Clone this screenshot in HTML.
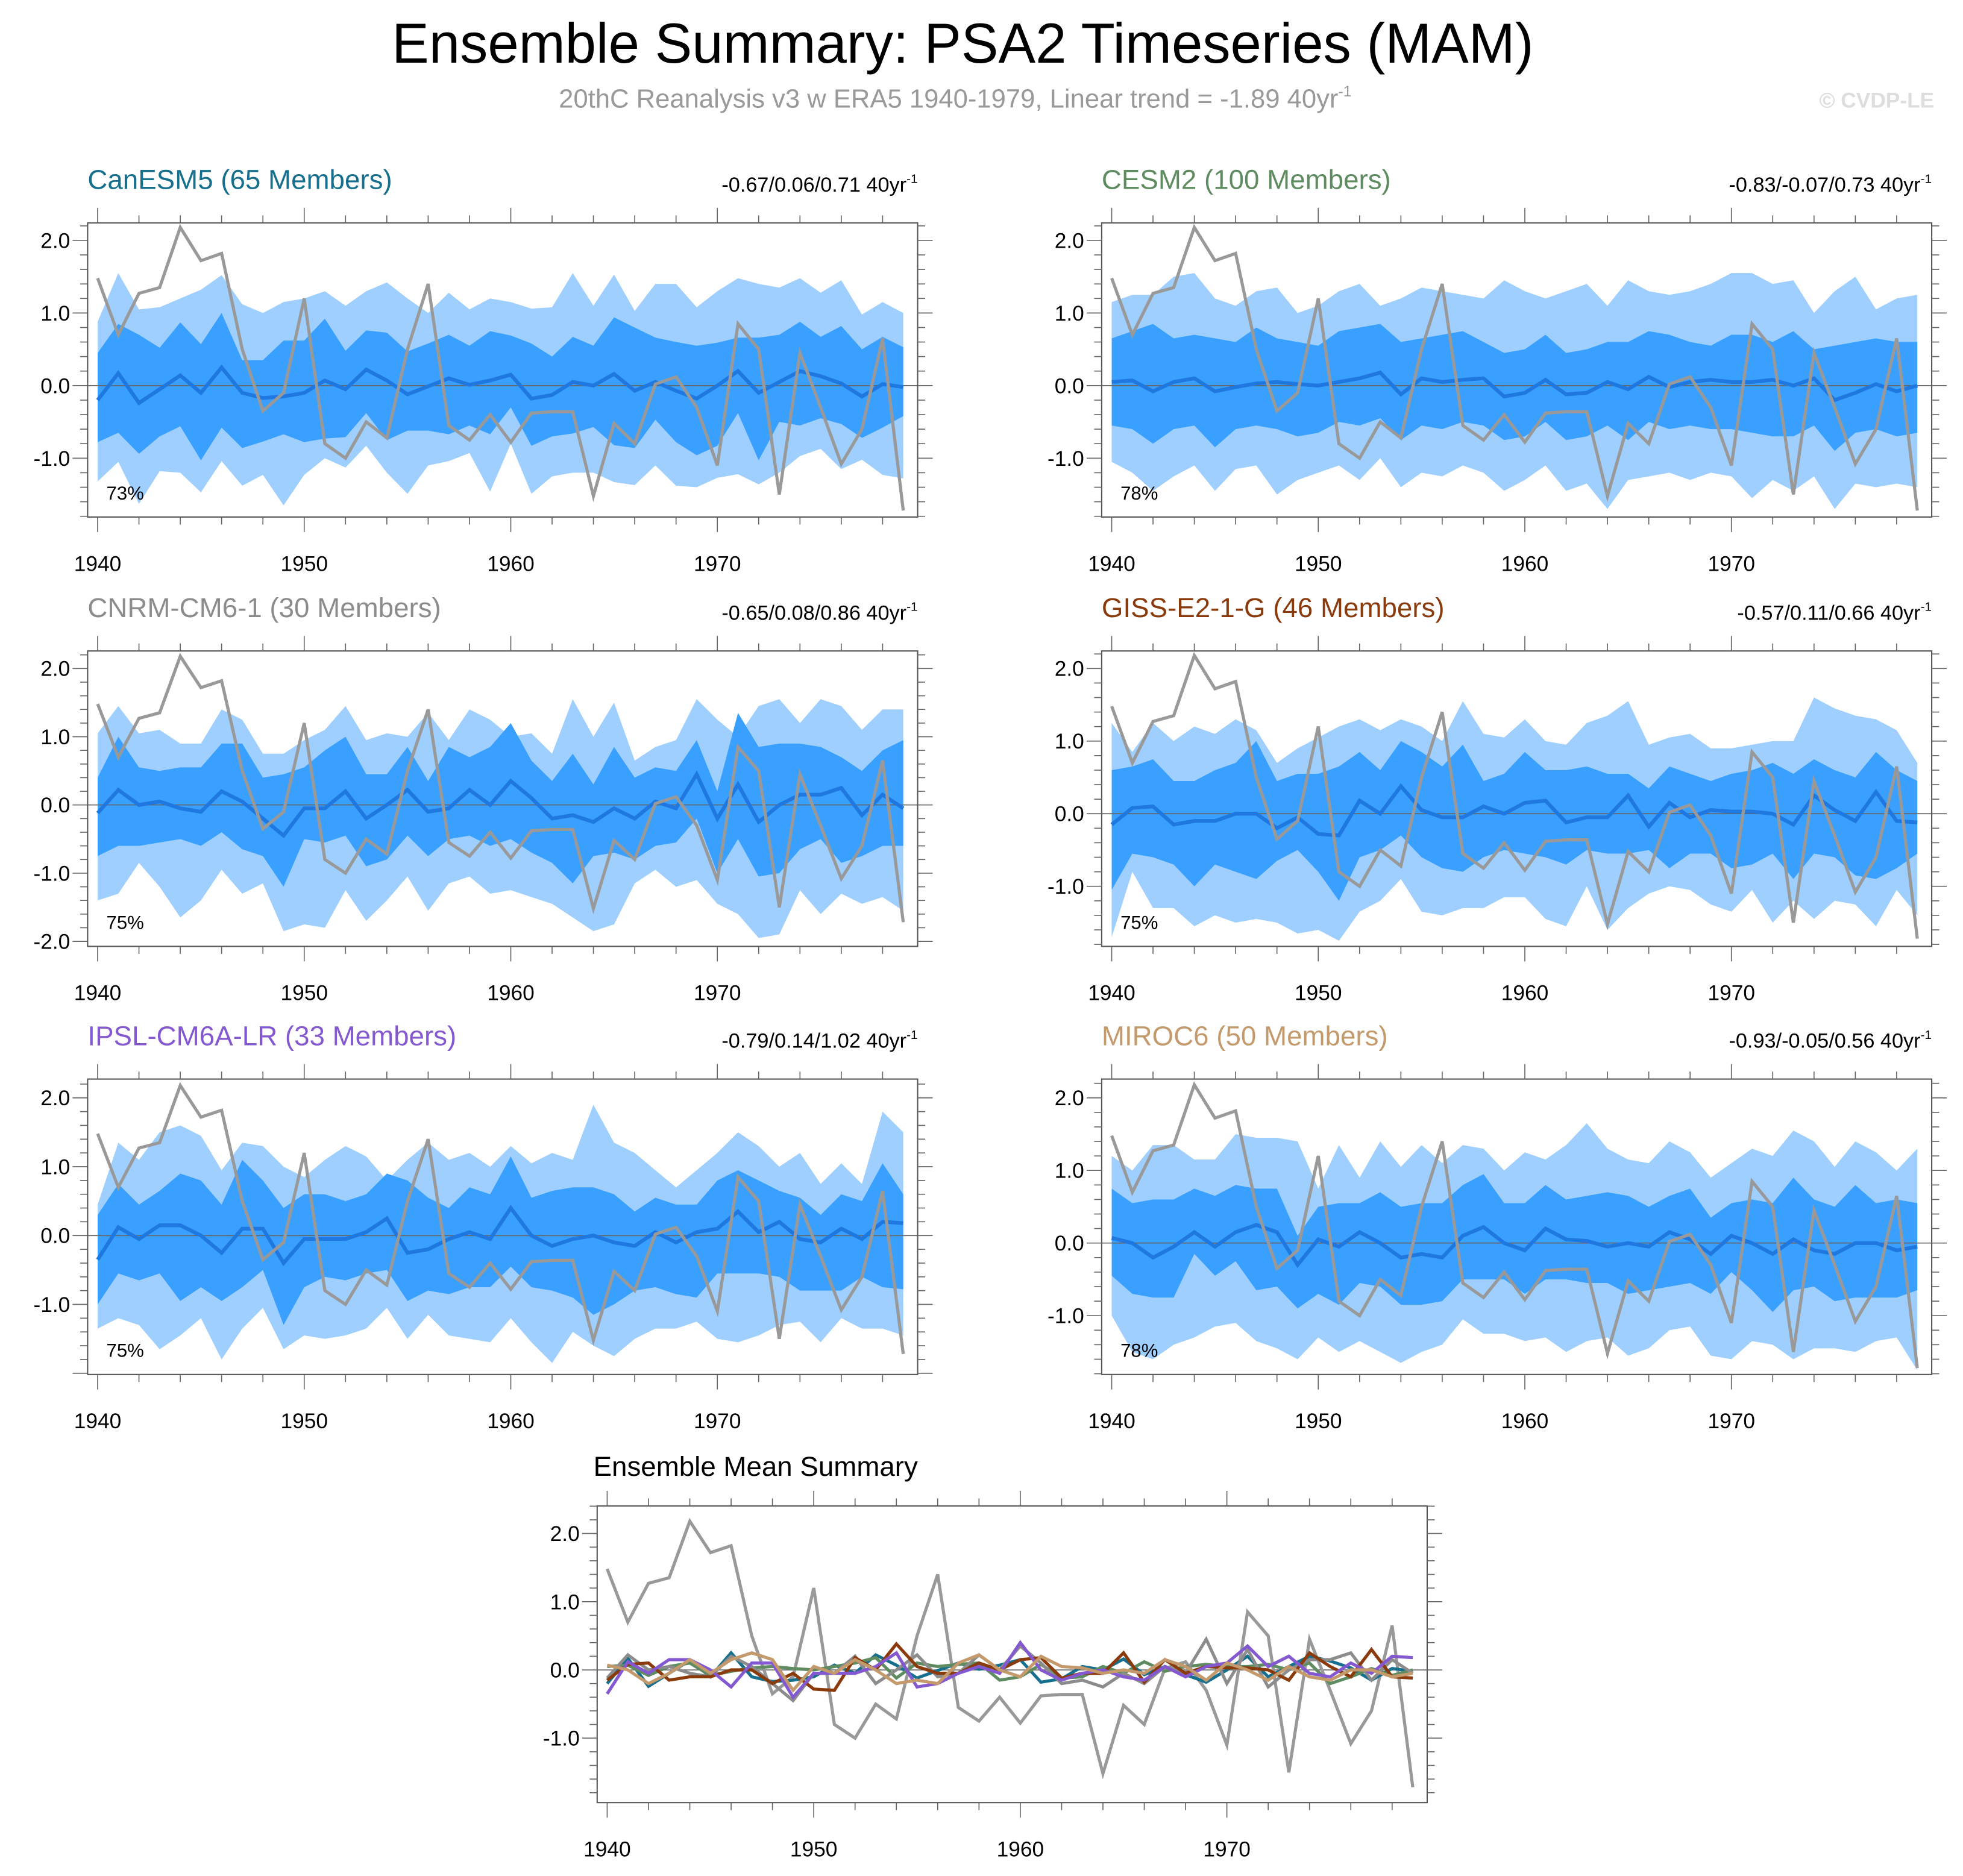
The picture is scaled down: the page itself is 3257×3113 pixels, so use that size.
<!DOCTYPE html>
<html><head><meta charset="utf-8"><style>html,body{margin:0;padding:0;background:#fff}svg{display:block}text{font-family:"Liberation Sans",sans-serif}</style></head>
<body>
<svg id="chart" xmlns="http://www.w3.org/2000/svg" width="3257" height="3113" viewBox="0 0 1568 1498.6">
<text x="769" y="50" font-size="45" text-anchor="middle" textLength="912" lengthAdjust="spacingAndGlyphs">Ensemble Summary: PSA2 Timeseries (MAM)</text>
<text x="763" y="86" font-size="21" fill="#999" text-anchor="middle">20thC Reanalysis v3 w ERA5 1940-1979, Linear trend = -1.89 40yr<tspan dy="-9" font-size="12">-1</tspan></text>
<text x="1545" y="86" font-size="17" fill="#ddd" font-weight="bold" text-anchor="end">© CVDP-LE</text>
<g id="panels"></g>
</svg>
<script>
const years = Array.from({length:40},(_,i)=>1940+i);
const obs = [1.48,0.7,1.27,1.35,2.18,1.72,1.82,0.5,-0.35,-0.1,1.2,-0.8,-1.0,-0.5,-0.72,0.5,1.4,-0.55,-0.75,-0.4,-0.78,-0.38,-0.36,-0.36,-1.52,-0.52,-0.8,0.02,0.12,-0.3,-1.1,0.85,0.5,-1.5,0.45,-0.3,-1.08,-0.6,0.65,-1.72];
const modelNames = ["CanESM5 (65 Members)","CESM2 (100 Members)","CNRM-CM6-1 (30 Members)","GISS-E2-1-G (46 Members)","IPSL-CM6A-LR (33 Members)","MIROC6 (50 Members)"];
const trendLabels = ["-0.67/0.06/0.71 40yr","-0.83/-0.07/0.73 40yr","-0.65/0.08/0.86 40yr","-0.57/0.11/0.66 40yr","-0.79/0.14/1.02 40yr","-0.93/-0.05/0.56 40yr"];
const pctLabels = ["73%","78%","75%","75%","75%","78%"];
const yTickLabels = [[2,1,0,-1],[2,1,0,-1],[2,1,0,-1,-2],[2,1,0,-1],[2,1,0,-1],[2,1,0,-1]];
const xTickLabels = [1940,1950,1960,1970];
const mean0=[-0.2,0.17,-0.24,-0.05,0.14,-0.1,0.25,-0.1,-0.17,-0.15,-0.1,0.07,-0.05,0.22,0.07,-0.12,-0.01,0.1,0.01,0.07,0.15,-0.18,-0.13,0.05,0.0,0.16,-0.07,0.05,-0.07,-0.18,0.0,0.2,-0.1,0.05,0.2,0.13,0.03,-0.15,0.02,-0.02];
const hi90_0=[0.88,1.55,1.05,1.08,1.2,1.32,1.52,1.12,1.0,1.15,1.2,1.3,1.1,1.3,1.42,1.2,1.0,1.28,1.05,1.2,1.15,1.06,1.08,1.55,1.1,1.53,1.03,1.4,1.4,1.08,1.3,1.48,1.4,1.35,1.48,1.28,1.45,0.98,1.15,1.0];
const hi75_0=[0.45,0.85,0.7,0.52,0.87,0.57,1.0,0.35,0.35,0.62,0.62,0.92,0.48,0.76,0.73,0.47,0.58,0.7,0.55,0.75,0.69,0.58,0.4,0.67,0.55,0.94,0.8,0.66,0.6,0.55,0.59,0.66,0.66,0.7,0.88,0.67,0.82,0.5,0.67,0.53];
const lo75_0=[-0.78,-0.65,-0.94,-0.7,-0.56,-1.03,-0.58,-0.86,-0.77,-0.67,-0.78,-0.73,-0.71,-0.38,-0.75,-0.62,-0.62,-0.67,-0.55,-0.67,-0.3,-0.83,-0.7,-0.66,-0.57,-0.82,-0.86,-0.47,-0.78,-0.96,-0.83,-0.38,-1.03,-0.5,-0.55,-0.45,-0.53,-0.72,-0.58,-0.42];
const lo90_0=[-1.32,-1.05,-1.63,-1.18,-1.2,-1.47,-1.04,-1.38,-1.23,-1.65,-1.23,-1.0,-1.13,-0.83,-1.2,-1.49,-1.1,-1.04,-0.93,-1.46,-0.8,-1.49,-1.25,-1.2,-1.2,-1.33,-1.37,-1.1,-1.38,-1.4,-1.27,-1.22,-1.36,-1.2,-0.97,-0.87,-1.15,-1.02,-1.23,-1.28];
const mean1=[0.05,0.07,-0.08,0.05,0.1,-0.08,-0.02,0.03,0.05,0.02,0.0,0.05,0.1,0.18,-0.12,0.1,0.05,0.08,0.1,-0.15,-0.1,0.08,-0.12,-0.1,0.05,-0.05,0.12,-0.02,0.05,0.08,0.05,0.05,0.08,0.0,0.1,-0.2,-0.1,0.02,-0.08,0.0];
const hi90_1=[1.15,1.25,1.25,1.5,1.55,1.2,1.1,1.3,1.35,1.0,1.1,1.3,1.4,1.1,1.2,1.35,1.3,1.25,1.2,1.45,1.3,1.2,1.3,1.4,1.1,1.45,1.3,1.25,1.3,1.4,1.55,1.55,1.4,1.45,1.0,1.3,1.5,1.05,1.2,1.25];
const hi75_1=[0.65,0.75,0.85,0.65,0.7,0.65,0.6,0.8,0.65,0.6,0.55,0.75,0.8,0.85,0.6,0.65,0.7,0.75,0.6,0.45,0.5,0.7,0.45,0.5,0.6,0.6,0.75,0.7,0.6,0.55,0.7,0.7,0.6,0.75,0.5,0.55,0.6,0.65,0.6,0.6];
const lo75_1=[-0.55,-0.6,-0.8,-0.6,-0.55,-0.85,-0.6,-0.55,-0.6,-0.7,-0.65,-0.5,-0.55,-0.45,-0.75,-0.55,-0.6,-0.5,-0.55,-0.75,-0.7,-0.5,-0.75,-0.7,-0.55,-0.75,-0.5,-0.6,-0.55,-0.6,-0.6,-0.65,-0.7,-0.7,-0.55,-0.9,-0.65,-0.6,-0.7,-0.65];
const lo90_1=[-1.05,-1.2,-1.45,-1.25,-1.1,-1.45,-1.15,-1.1,-1.5,-1.3,-1.2,-1.1,-1.3,-1.0,-1.4,-1.2,-1.25,-1.1,-1.2,-1.45,-1.3,-1.1,-1.45,-1.35,-1.7,-1.3,-1.25,-1.2,-1.3,-1.2,-1.25,-1.55,-1.3,-1.45,-1.25,-1.7,-1.35,-1.4,-1.35,-1.4];
const mean2=[-0.12,0.22,0.0,0.05,-0.05,-0.1,0.2,0.05,-0.2,-0.45,-0.05,-0.05,0.2,-0.2,0.0,0.22,-0.1,-0.05,0.22,0.0,0.35,0.1,-0.2,-0.15,-0.25,-0.05,-0.2,0.05,-0.05,0.45,-0.2,0.3,-0.25,0.0,0.15,0.15,0.25,-0.15,0.15,-0.05];
const hi90_2=[1.05,1.45,1.05,1.1,0.9,0.9,1.4,1.25,0.75,0.75,0.95,1.1,1.45,0.95,1.05,1.0,1.35,0.95,1.4,1.25,1.0,1.05,0.75,1.55,1.0,1.5,0.65,0.85,0.95,1.55,1.25,1.0,1.45,1.55,1.2,1.55,1.45,1.1,1.4,1.4];
const hi75_2=[0.4,1.0,0.55,0.5,0.55,0.55,0.9,0.9,0.4,0.45,0.55,0.8,1.0,0.45,0.45,0.85,0.35,0.85,0.7,0.85,1.2,0.65,0.35,0.75,0.3,0.85,0.4,0.55,0.5,0.95,0.2,1.35,0.85,0.9,0.9,0.85,0.7,0.5,0.8,0.95];
const lo75_2=[-0.75,-0.6,-0.6,-0.55,-0.5,-0.6,-0.4,-0.65,-0.75,-1.2,-0.5,-0.55,-0.45,-0.9,-0.8,-0.45,-0.75,-0.5,-0.45,-0.6,-0.5,-0.7,-0.85,-1.15,-0.75,-0.7,-0.8,-0.6,-0.55,-0.2,-1.0,-0.5,-1.05,-1.0,-0.65,-0.5,-0.85,-0.75,-0.6,-0.6];
const lo90_2=[-1.4,-1.3,-0.85,-1.2,-1.65,-1.4,-0.95,-1.3,-1.15,-1.85,-1.75,-1.8,-1.25,-1.7,-1.4,-1.05,-1.55,-1.15,-1.05,-1.3,-1.25,-1.35,-1.45,-1.65,-1.85,-1.75,-1.15,-0.95,-1.2,-1.1,-1.45,-1.6,-1.95,-1.9,-1.25,-1.6,-1.3,-1.45,-1.35,-1.55];
const mean3=[-0.15,0.08,0.1,-0.15,-0.1,-0.1,0.0,0.0,-0.2,-0.05,-0.28,-0.3,0.18,0.0,0.38,0.05,-0.05,-0.05,0.1,0.0,0.15,0.18,-0.12,-0.05,-0.05,0.25,-0.18,0.15,-0.05,0.05,0.03,0.03,0.0,-0.15,0.25,0.05,-0.1,0.3,-0.1,-0.12];
const hi90_3=[1.25,0.85,1.25,1.0,1.2,1.1,1.3,1.15,0.7,0.9,1.05,1.2,1.3,1.15,1.3,1.2,1.0,1.55,1.1,1.05,1.3,1.0,0.95,1.25,1.35,1.55,0.95,1.05,1.1,0.9,0.9,0.95,1.0,1.0,1.6,1.45,1.35,1.3,1.15,0.7];
const hi75_3=[0.6,0.65,0.75,0.45,0.45,0.6,0.7,1.0,0.45,0.55,0.55,0.65,0.85,0.6,1.0,0.85,0.65,0.95,0.45,0.55,0.85,0.6,0.6,0.65,0.55,0.55,0.35,0.65,0.55,0.45,0.55,0.6,0.7,0.55,0.75,0.6,0.5,0.85,0.6,0.45];
const lo75_3=[-1.05,-0.55,-0.6,-0.7,-1.0,-0.7,-0.8,-0.9,-0.65,-0.5,-0.8,-1.2,-0.6,-0.5,-0.3,-0.6,-0.75,-0.8,-0.6,-0.5,-0.55,-0.6,-0.7,-0.5,-0.55,-0.55,-0.5,-0.75,-0.55,-0.55,-0.75,-0.7,-0.55,-0.9,-0.55,-0.6,-0.85,-0.9,-0.75,-0.55];
const lo90_3=[-1.7,-0.8,-1.3,-1.3,-1.55,-1.4,-1.5,-1.45,-1.5,-1.65,-1.6,-1.75,-1.35,-1.2,-0.9,-1.35,-1.4,-1.3,-1.3,-1.15,-1.15,-1.45,-1.55,-1.0,-1.6,-1.3,-1.1,-1.0,-1.05,-1.25,-1.35,-1.05,-1.5,-1.2,-1.45,-1.2,-1.25,-1.55,-1.05,-1.4];
const mean4=[-0.35,0.12,-0.05,0.15,0.15,0.0,-0.25,0.1,0.1,-0.4,-0.05,-0.05,-0.05,0.05,0.25,-0.25,-0.2,-0.05,0.05,-0.05,0.4,0.0,-0.15,-0.05,0.0,-0.1,-0.15,0.05,-0.1,0.05,0.1,0.35,0.05,0.2,-0.05,-0.1,0.1,-0.05,0.2,0.18];
const hi90_4=[0.45,1.35,1.1,1.5,1.6,1.45,0.95,1.35,1.3,1.0,0.85,1.1,1.3,1.15,0.8,1.1,1.35,1.1,1.2,1.0,1.3,1.05,1.2,1.1,1.9,1.35,1.2,0.95,0.7,0.95,1.2,1.5,1.3,1.0,1.2,0.75,1.05,0.75,1.8,1.5];
const hi75_4=[0.3,0.75,0.45,0.65,0.9,0.8,0.45,1.1,0.8,0.4,0.6,0.6,0.5,0.6,0.9,0.8,0.55,0.4,0.7,0.6,1.15,0.55,0.65,0.7,0.7,0.6,0.35,0.55,0.45,0.45,0.8,0.95,0.8,0.65,0.55,0.3,0.6,0.5,1.05,0.6];
const lo75_4=[-1.0,-0.55,-0.65,-0.55,-0.95,-0.75,-0.95,-0.75,-0.5,-1.3,-0.75,-0.6,-0.65,-0.55,-0.5,-0.95,-0.8,-0.85,-0.75,-0.75,-0.45,-0.75,-0.8,-0.9,-1.15,-1.0,-0.8,-0.75,-0.85,-0.9,-0.55,-0.55,-0.55,-0.6,-0.8,-0.8,-0.8,-0.6,-0.75,-0.78];
const lo90_4=[-1.35,-1.2,-1.3,-1.65,-1.45,-1.2,-1.8,-1.35,-1.05,-1.65,-1.45,-1.5,-1.45,-1.35,-1.05,-1.5,-1.15,-1.45,-1.5,-1.55,-1.2,-1.55,-1.85,-1.4,-1.6,-1.75,-1.5,-1.35,-1.35,-1.25,-1.5,-1.55,-1.45,-1.3,-1.25,-1.55,-1.2,-1.35,-1.35,-1.45];
const mean5=[0.07,0.0,-0.2,-0.05,0.15,-0.05,0.15,0.25,0.15,-0.3,0.05,-0.05,0.15,0.0,-0.2,-0.15,-0.2,0.1,0.22,0.0,-0.1,0.2,0.05,0.03,-0.05,0.0,-0.05,0.15,0.05,-0.15,0.1,0.0,-0.15,0.05,-0.1,-0.15,0.0,0.0,-0.1,-0.05];
const hi90_5=[1.2,1.0,1.35,1.35,1.15,1.15,1.5,1.45,1.45,1.4,0.75,1.35,0.9,1.4,1.05,1.35,1.1,1.35,1.3,1.0,1.25,1.15,1.35,1.65,1.3,1.15,1.1,1.4,1.25,0.9,1.1,1.3,1.2,1.55,1.4,1.05,1.4,1.25,1.0,1.3];
const hi75_5=[0.75,0.55,0.6,0.6,0.75,0.65,0.8,0.75,0.75,0.1,0.5,0.55,0.55,0.7,0.5,0.55,0.55,0.8,0.95,0.55,0.55,0.8,0.6,0.65,0.7,0.65,0.5,0.65,0.75,0.35,0.55,0.6,0.55,0.9,0.6,0.5,0.8,0.55,0.6,0.55];
const lo75_5=[-0.45,-0.7,-0.75,-0.75,-0.15,-0.45,-0.25,-0.65,-0.6,-0.9,-0.7,-0.85,-0.55,-0.6,-0.85,-0.85,-0.8,-0.5,-0.5,-0.5,-0.7,-0.5,-0.5,-0.55,-0.55,-0.7,-0.65,-0.6,-0.55,-0.7,-0.4,-0.65,-0.95,-0.65,-0.6,-0.8,-0.75,-0.75,-0.75,-0.65];
const lo90_5=[-1.0,-1.5,-1.6,-1.4,-1.3,-1.15,-1.1,-1.35,-1.45,-1.6,-1.3,-1.5,-1.35,-1.5,-1.65,-1.5,-1.4,-1.05,-1.25,-1.25,-1.35,-1.3,-1.5,-1.35,-1.3,-1.55,-1.45,-1.2,-1.15,-1.55,-1.6,-1.35,-1.4,-1.6,-1.45,-1.45,-1.5,-1.35,-1.3,-1.75];
const meanColors = ["#176f8e","#5e8c60","#8c8c8c","#8b3a0c","#8458d0","#c49a6c"];

const NS="http://www.w3.org/2000/svg";
const root=document.getElementById('panels');
function el(t,a,p){const e=document.createElementNS(NS,t);for(const k in a)e.setAttribute(k,a[k]);(p||root).appendChild(e);return e;}
const means=[mean0,mean1,mean2,mean3,mean4,mean5];
const bands=[[hi90_0,hi75_0,lo75_0,lo90_0],[hi90_1,hi75_1,lo75_1,lo90_1],[hi90_2,hi75_2,lo75_2,lo90_2],[hi90_3,hi75_3,lo75_3,lo90_3],[hi90_4,hi75_4,lo75_4,lo90_4],[hi90_5,hi75_5,lo75_5,lo90_5]];
const layout=[
 {x0:70,y0:178,y1:413,zero:308,unit:58},
 {x0:880,y0:178,y1:413,zero:308,unit:58},
 {x0:70,y0:520,y1:756,zero:643,unit:54.5},
 {x0:880,y0:520,y1:756,zero:650,unit:58},
 {x0:70,y0:862,y1:1098,zero:987,unit:55},
 {x0:880,y0:862,y1:1098,zero:993,unit:58},
 {x0:477,y0:1203,y1:1440,zero:1334,unit:54.5}];
const W=663;
function axes(L){
  const xs=y=>L.x0+8+(y-1940)*16.5, ys=v=>L.zero-v*L.unit;
  return {xs,ys};
}
function drawFrame(g,L,yt,xs,ys){
  const x1=L.x0+W;
  el('rect',{x:L.x0,y:L.y0,width:W,height:L.y1-L.y0,fill:'none',stroke:'#555','stroke-width':1},g);
  for(let yr=1940;yr<=1979;yr+=2){const x=xs(yr),maj=(yr%10===0);
    el('line',{x1:x,x2:x,y1:L.y0,y2:L.y0-(maj?12:6),stroke:'#666','stroke-width':0.8},g);
    el('line',{x1:x,x2:x,y1:L.y1,y2:L.y1+(maj?12:6),stroke:'#666','stroke-width':0.8},g);}
  for(let v=-2.4;v<=2.41;v+=0.2){const y=ys(v);if(y<L.y0-1||y>L.y1+1)continue;const maj=Math.abs(v-Math.round(v))<0.01;
    el('line',{x1:L.x0,x2:L.x0-(maj?12:6),y1:y,y2:y,stroke:'#666','stroke-width':0.8},g);
    el('line',{x1:x1,x2:x1+(maj?12:6),y1:y,y2:y,stroke:'#666','stroke-width':0.8},g);}
  yt.forEach(v=>{const t=el('text',{x:L.x0-14,y:ys(v)+6,'font-size':17,'text-anchor':'end'},g);
    
    
    t.textContent=v.toFixed(1);});
  xTickLabels.forEach(yr=>{const t=el('text',{x:xs(yr),y:L.y1+43,'font-size':17,'text-anchor':'middle'},g);
    
    
    t.textContent=yr;});
}
const pts=(arr,xs,ys)=>arr.map((v,i)=>xs(years[i]).toFixed(1)+','+ys(v).toFixed(1)).join(' ');
for(let m=0;m<6;m++){
  const L=layout[m];const g=el('g',{});
  
  
  const {xs,ys}=axes(L);
  const [h90,h75,l75,l90]=bands[m];
  const b=a=>a.map((v,i)=>[xs(years[i]),ys(v)]).reverse().map(p=>p[0].toFixed(1)+','+p[1].toFixed(1)).join(' ');
  const outer=el('polygon',{points:pts(h90,xs,ys)+' '+b(l90),fill:'#9ecfff'},g);
  
  
  const inner=el('polygon',{points:pts(h75,xs,ys)+' '+b(l75),fill:'#3aa0ff'},g);
  
  
  el('line',{x1:L.x0,x2:L.x0+W,y1:ys(0),y2:ys(0),stroke:'#666','stroke-width':0.8},g);
  const ml=el('polyline',{points:pts(means[m],xs,ys),fill:'none',stroke:'#1e78e0','stroke-width':3},g);
  
  
  const ol=el('polyline',{points:pts(obs,xs,ys),fill:'none',stroke:'#999','stroke-width':2.5},g);
  
  
  drawFrame(g,L,yTickLabels[m],xs,ys);
  const t=el('text',{x:L.x0,y:L.y0-27,'font-size':22,fill:meanColors[m]},g);
  
  
  t.textContent=modelNames[m];
  const r=el('text',{x:L.x0+W,y:L.y0-25,'font-size':16.5,'text-anchor':'end'},g);
  
  
  r.textContent=trendLabels[m];
  const sp=el('tspan',{dy:-7,'font-size':10},r);sp.textContent='-1';
  const p=el('text',{x:L.x0+15,y:L.y1-14,'font-size':15},g);
  
  
  p.textContent=pctLabels[m];
}
{
  const L=layout[6];const g=el('g',{});
  
  
  const {xs,ys}=axes(L);
  el('line',{x1:L.x0,x2:L.x0+W,y1:ys(0),y2:ys(0),stroke:'#666','stroke-width':0.8},g);
  const ol=el('polyline',{points:pts(obs,xs,ys),fill:'none',stroke:'#999','stroke-width':2.5},g);
  
  
  for(let m=0;m<6;m++){const l=el('polyline',{points:pts(means[m],xs,ys),fill:'none',stroke:meanColors[m],'stroke-width':2.5},g);
    
    }
  drawFrame(g,L,[2,1,0,-1],xs,ys);
  const t=el('text',{x:L.x0-3,y:L.y0-24,'font-size':22},g);
  
  
  t.textContent='Ensemble Mean Summary';
}
</script>
</body></html>
